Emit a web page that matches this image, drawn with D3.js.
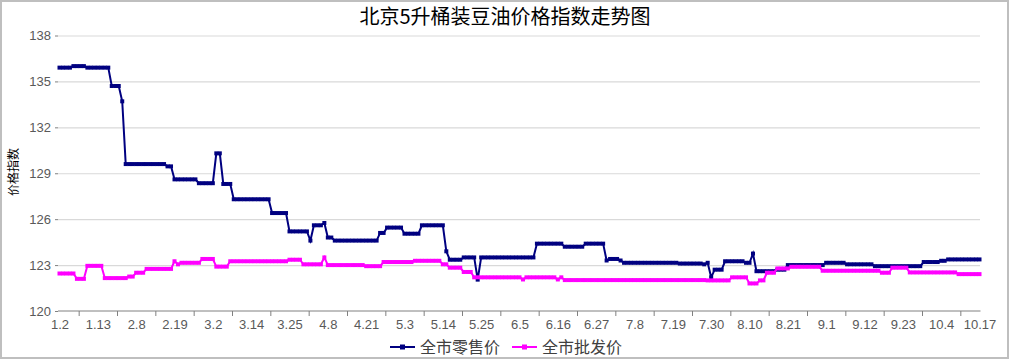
<!DOCTYPE html>
<html>
<head>
<meta charset="utf-8">
<script src="https://cdn.jsdelivr.net/npm/d3@7/dist/d3.min.js"></script>
<style>
  body { margin: 0; background: #fff; }
  svg { display: block; font-family: "Noto Sans CJK SC", "Noto Sans", sans-serif; }
</style>
</head>
<body>
<div id="chart"></div>
<script>
var W = 1010, H = 360;

// x labels every 11th day
var xLabels = ["1.2","1.13","2.8","2.19","3.2","3.14","3.25","4.8","4.21","5.3","5.14","5.25",
               "6.5","6.16","6.27","7.8","7.19","7.30","8.10","8.21","9.1","9.12","9.23","10.4","10.17"];
var yTicks = [120, 123, 126, 129, 132, 135, 138];
var seriesNames = ["全市零售价", "全市批发价"];

// 全市零售价 (one row = 11 days)
var retail = [
  135.9,135.9,135.9,135.9,136.0,136.0,136.0,136.0,135.9,135.9,135.9,
  135.9,135.9,135.9,135.9,134.7,134.7,134.7,133.7,129.6,129.6,129.6,
  129.6,129.6,129.6,129.6,129.6,129.6,129.6,129.6,129.6,129.45,129.45,
  128.6,128.6,128.6,128.6,128.6,128.6,128.6,128.35,128.35,128.35,128.35,
  128.35,130.3,130.3,128.3,128.3,128.3,127.3,127.3,127.3,127.3,127.3,
  127.3,127.3,127.3,127.3,127.3,127.3,126.4,126.4,126.4,126.4,126.4,
  125.2,125.2,125.2,125.2,125.2,125.2,124.6,125.6,125.6,125.6,125.75,
  124.8,124.8,124.6,124.6,124.6,124.6,124.6,124.6,124.6,124.6,124.6,
  124.6,124.6,124.6,124.6,125.1,125.1,125.45,125.45,125.45,125.45,125.45,
  125.05,125.05,125.05,125.05,125.05,125.6,125.6,125.6,125.6,125.6,125.6,
  125.6,123.9,123.35,123.35,123.35,123.35,123.5,123.5,123.5,123.5,122.05,
  123.5,123.5,123.5,123.5,123.5,123.5,123.5,123.5,123.5,123.5,123.5,
  123.5,123.5,123.5,123.5,123.5,124.4,124.4,124.4,124.4,124.4,124.4,
  124.4,124.4,124.2,124.2,124.2,124.2,124.2,124.2,124.4,124.4,124.4,
  124.4,124.4,124.4,123.3,123.4,123.4,123.4,123.3,123.15,123.15,123.15,
  123.15,123.15,123.15,123.15,123.15,123.15,123.15,123.15,123.15,123.15,123.15,
  123.15,123.15,123.1,123.1,123.1,123.1,123.1,123.1,123.1,123.05,123.15,
  122.2,122.7,122.7,122.7,123.25,123.25,123.25,123.25,123.25,123.25,123.15,
  123.15,123.75,122.6,122.6,122.6,122.6,122.6,122.6,122.7,122.7,122.7,
  123.0,123.0,123.0,123.0,123.0,123.0,123.0,123.0,123.0,123.0,123.0,
  123.15,123.15,123.15,123.15,123.15,123.15,123.05,123.05,123.05,123.05,123.05,
  123.05,123.05,123.05,122.93,122.93,122.93,122.93,122.93,122.93,122.93,122.93,
  122.93,122.93,122.93,122.93,122.93,122.93,123.2,123.2,123.2,123.2,123.2,
  123.28,123.28,123.37,123.37,123.37,123.37,123.37,123.37,123.37,123.37,123.37,
  123.37
];

// 全市批发价
var wholesale = [
  122.45,122.45,122.45,122.45,122.45,122.1,122.1,122.1,122.95,122.95,122.95,
  122.95,122.95,122.15,122.15,122.15,122.15,122.15,122.15,122.15,122.25,122.25,
  122.5,122.5,122.5,122.75,122.75,122.75,122.75,122.75,122.75,122.75,122.75,
  123.25,123.05,123.15,123.15,123.15,123.15,123.15,123.15,123.4,123.4,123.4,
  123.4,122.9,122.9,122.9,122.9,123.25,123.25,123.25,123.25,123.25,123.25,
  123.25,123.25,123.25,123.25,123.25,123.25,123.25,123.25,123.25,123.25,123.25,
  123.35,123.35,123.35,123.35,123.05,123.05,123.05,123.05,123.05,123.05,123.5,
  123.0,123.0,123.0,123.0,123.0,123.0,123.0,123.0,123.0,123.0,123.0,
  122.93,122.93,122.93,122.93,122.93,123.2,123.2,123.2,123.2,123.2,123.2,
  123.2,123.2,123.2,123.28,123.28,123.28,123.28,123.28,123.28,123.28,123.28,
  123.05,123.05,122.83,122.83,122.83,122.83,122.55,122.55,122.55,122.2,122.2,
  122.2,122.2,122.2,122.2,122.2,122.2,122.2,122.2,122.2,122.2,122.2,
  122.2,122.06,122.2,122.2,122.2,122.2,122.2,122.2,122.2,122.2,122.2,
  122.06,122.2,122.02,122.02,122.02,122.02,122.02,122.02,122.02,122.02,122.02,
  122.02,122.02,122.02,122.02,122.02,122.02,122.02,122.02,122.02,122.02,122.02,
  122.02,122.02,122.02,122.02,122.02,122.02,122.02,122.02,122.02,122.02,122.02,
  122.02,122.02,122.02,122.02,122.02,122.02,122.02,122.02,122.02,122.02,122.0,
  122.0,122.0,122.0,122.0,122.0,122.0,122.2,122.2,122.2,122.2,122.2,
  121.8,121.8,121.8,122.0,122.0,122.5,122.5,122.5,122.78,122.78,122.78,
  122.78,122.89,122.89,122.89,122.89,122.89,122.89,122.89,122.89,122.89,122.63,
  122.63,122.63,122.63,122.63,122.63,122.63,122.63,122.63,122.63,122.63,122.63,
  122.63,122.63,122.63,122.63,122.63,122.5,122.5,122.5,122.83,122.83,122.83,
  122.83,122.83,122.52,122.52,122.52,122.52,122.52,122.52,122.52,122.52,122.52,
  122.52,122.52,122.52,122.52,122.52,122.41,122.41,122.41,122.41,122.41,122.41,
  122.41
];

var colors = ["#000080", "#ff00ff"];
var plotLeft = 59.5, plotRight = 979.5, plotTop = 35.5, plotBottom = 311;

var svg = d3.select("#chart").append("svg")
    .attr("width", W)
    .attr("height", H);

svg.append("rect")
    .attr("x", 1).attr("y", 1)
    .attr("width", W - 3).attr("height", H - 3)
    .attr("fill", "#fff")
    .attr("stroke", "#bfbfbf")
    .attr("stroke-width", 2);

var x = d3.scaleLinear().domain([0, retail.length - 1]).range([plotLeft, plotRight]);
var y = d3.scaleLinear().domain([120, 138]).range([plotBottom, plotTop]);

// gridlines
var grid = svg.append("g")
    .attr("transform", "translate(" + (plotLeft - 1.5) + ",0)")
    .call(d3.axisLeft(y).tickValues(yTicks.slice(1)).tickSize(-(plotRight - plotLeft + 2)).tickFormat(""));
grid.select(".domain").remove();
grid.selectAll("line").attr("stroke", "#d9d9d9").attr("stroke-width", 1.2);

// y-axis
var yAxis = svg.append("g")
    .attr("transform", "translate(" + (plotLeft - 1.5) + ",0)")
    .call(d3.axisLeft(y).tickValues(yTicks).tickSize(3).tickPadding(4));
yAxis.select(".domain").remove();
yAxis.selectAll("line").attr("stroke", "#808080");
yAxis.selectAll("text")
    .attr("fill", "#595959")
    .style("font-size", "13px");

// x-axis: tick marks between label positions, labels every 11 points
var tickIdx = d3.range(0, xLabels.length - 1).map(function(k) { return 5.5 + 11 * k; });
var xTicks = svg.append("g")
    .attr("transform", "translate(0," + plotBottom + ")")
    .call(d3.axisBottom(x).tickValues(tickIdx).tickSize(5).tickFormat(""));
xTicks.select(".domain")
    .attr("d", "M" + (plotLeft - 1.5) + ",0H" + (plotRight + 1))
    .attr("stroke", "#808080");
xTicks.selectAll("line").attr("stroke", "#808080");

var labelIdx = xLabels.map(function(d, i) { return i * 11; });
var xAxis = svg.append("g")
    .attr("transform", "translate(0," + plotBottom + ")")
    .call(d3.axisBottom(x).tickValues(labelIdx).tickSize(0).tickPadding(9)
          .tickFormat(function(d, i) { return xLabels[i]; }));
xAxis.select(".domain").remove();
xAxis.selectAll("text")
    .attr("fill", "#595959")
    .style("font-size", "13px");

// series
var line = d3.line()
    .x(function(d, i) { return x(i); })
    .y(function(d) { return y(d); });

[retail, wholesale].forEach(function(data, s) {
    svg.append("path")
        .datum(data)
        .attr("fill", "none")
        .attr("stroke", colors[s])
        .attr("stroke-width", 2)
        .attr("d", line);
    svg.append("g").selectAll("rect")
        .data(data)
        .enter().append("rect")
        .attr("x", function(d, i) { return x(i) - 2; })
        .attr("y", function(d) { return y(d) - 2; })
        .attr("width", 4)
        .attr("height", 4)
        .attr("fill", colors[s]);
});

// title
svg.append("text")
    .attr("x", 505)
    .attr("y", 24)
    .attr("text-anchor", "middle")
    .attr("fill", "#000")
    .style("font-size", "20px")
    .text("北京5升桶装豆油价格指数走势图");

// y label
svg.append("text")
    .attr("transform", "translate(18,172) rotate(-90)")
    .attr("text-anchor", "middle")
    .attr("fill", "#000")
    .style("font-size", "12px")
    .text("价格指数");

// legend
var legendX = [390, 512];
var legend = svg.selectAll(".legend")
    .data(seriesNames)
    .enter().append("g")
    .attr("class", "legend")
    .attr("transform", function(d, i) { return "translate(" + legendX[i] + ",347)"; });
legend.append("line")
    .attr("x1", 0).attr("x2", 25)
    .attr("stroke", function(d, i) { return colors[i]; })
    .attr("stroke-width", 2);
legend.append("rect")
    .attr("x", 10).attr("y", -2.5)
    .attr("width", 5).attr("height", 5)
    .attr("fill", function(d, i) { return colors[i]; });
legend.append("text")
    .attr("x", 30)
    .attr("dy", "0.35em")
    .attr("fill", "#404040")
    .style("font-size", "16px")
    .text(function(d) { return d; });
</script>
</body>
</html>
